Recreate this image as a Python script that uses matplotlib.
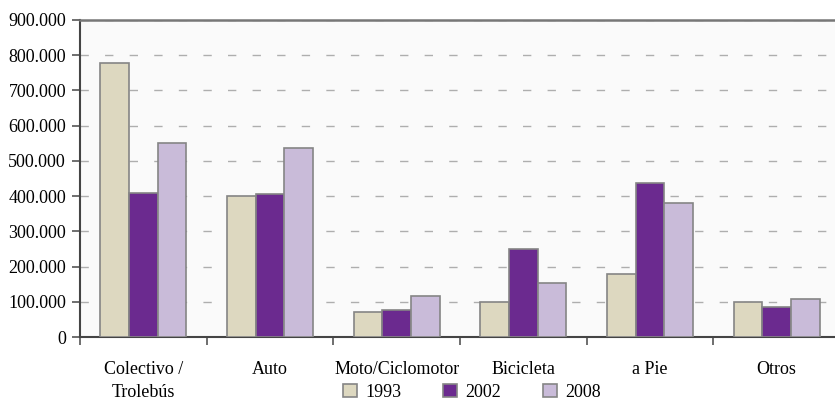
import matplotlib
matplotlib.use("Agg")
import matplotlib.pyplot as plt
import numpy as np
from matplotlib.ticker import FuncFormatter, MultipleLocator

categories = ["Colectivo /\nTrolebús", "Auto", "Moto/Ciclomotor", "Bicicleta", "a Pie", "Otros"]
years = ["1993", "2002", "2008"]
v1993 = [779000, 401000, 70000, 99000, 179000, 98000]
v2002 = [408000, 405000, 78000, 249000, 438000, 85000]
v2008 = [552000, 536000, 116000, 154000, 380000, 108000]
series = [v1993, v2002, v2008]
colors = ["#DDD8C0", "#6B2A8F", "#C9BBD9"]

plt.rcParams["font.family"] = ["Liberation Serif", "DejaVu Serif"]

fig = plt.figure(figsize=(8.35, 4.03), dpi=100)
ax = fig.add_axes([80 / 835, 1 - 337 / 403, 760 / 835, 317 / 403])
ax.set_facecolor("#FAFAFA")

x = np.arange(len(categories))
w = 0.227
for i, (vals, col, yr) in enumerate(zip(series, colors, years)):
    ax.bar(x + (i - 1) * w, vals, width=w, color=col, edgecolor="#858585",
           linewidth=1.2, label=yr, zorder=3)

ax.set_xlim(-0.5, len(categories) - 0.5)
ax.set_ylim(0, 900000)
ax.yaxis.set_major_locator(MultipleLocator(100000))
ax.yaxis.set_major_formatter(FuncFormatter(
    lambda v, p: "0" if v == 0 else f"{int(v):,}".replace(",", ".")))
ax.grid(axis="y", color="#AEAEAE", linestyle=(0, (6, 11.7)), linewidth=1.0, zorder=0)

ax.set_xticks(x)
ax.set_xticklabels(categories, fontsize=13, linespacing=1.5)
ax.set_xticks(np.arange(-0.5, len(categories)), minor=True)
ax.tick_params(axis="x", which="major", length=0, pad=17)
ax.tick_params(axis="x", which="minor", length=6, width=1.2, color="#555555", direction="out")
ax.tick_params(axis="y", length=6, width=1.2, color="#555555", labelsize=13, pad=4)

for side in ["left", "bottom"]:
    ax.spines[side].set_color("#444444")
    ax.spines[side].set_linewidth(1.5)
ax.spines["top"].set_color("#777777")
ax.spines["top"].set_linewidth(1.8)
ax.spines["right"].set_visible(False)

fig.legend(loc="lower center", bbox_to_anchor=(0.565, -0.035), ncol=3, frameon=False,
           fontsize=13, handlelength=0.8, handleheight=0.8, handletextpad=0.45,
           columnspacing=2.3)

fig.savefig("out.png", dpi=100, facecolor="white")
